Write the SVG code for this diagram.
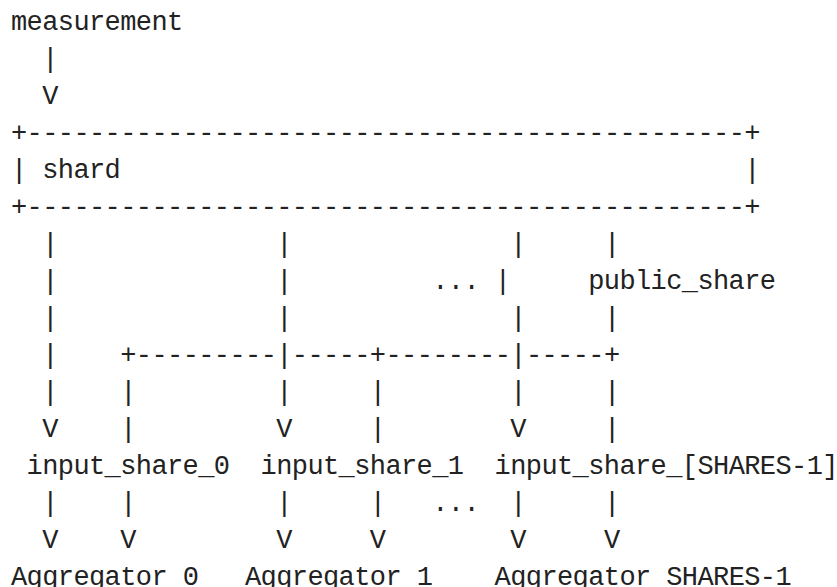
<svg xmlns="http://www.w3.org/2000/svg" width="837" height="587" viewBox="0 0 837 587">
  <style>
    text { font-family: "Liberation Mono", "DejaVu Sans Mono", monospace; font-size: 27px; letter-spacing: -0.6px; fill: #222; white-space: pre; }
  </style>
  <rect width="837" height="587" fill="#fff"/>

  <!-- measurement input -->
  <g id="measurement">
    <text x="11" y="29.5" xml:space="preserve">measurement</text>
  </g>

  <!-- shard box -->
  <g id="shard">
    <text x="11" y="140.5" xml:space="preserve">+----------------------------------------------+</text>
    <text x="11" y="177.5" xml:space="preserve">| shard                                        |</text>
    <text x="11" y="214.5" xml:space="preserve">+----------------------------------------------+</text>
  </g>

  <!-- public share label -->
  <g id="public-share">
    <text x="588.2" y="288.5" xml:space="preserve">public_share</text>
  </g>

  <!-- input shares -->
  <g id="input-shares">
    <text x="26.6" y="473.5" xml:space="preserve">input_share_0</text>
    <text x="260.6" y="473.5" xml:space="preserve">input_share_1</text>
    <text x="494.6" y="473.5" xml:space="preserve">input_share_[SHARES-1]</text>
  </g>

  <!-- aggregators -->
  <g id="aggregator-0">
    <text x="11" y="584.5" xml:space="preserve">Aggregator 0</text>
  </g>
  <g id="aggregator-1">
    <text x="245" y="584.5" xml:space="preserve">Aggregator 1</text>
  </g>
  <g id="aggregator-n">
    <text x="494.6" y="584.5" xml:space="preserve">Aggregator SHARES-1</text>
  </g>

  <!-- connectors -->
  <g id="connectors">
    <text x="11" y="66.5" xml:space="preserve">  |</text>
    <text x="11" y="103.5" xml:space="preserve">  V</text>
    <text x="11" y="251.5" xml:space="preserve">  |              |              |     |</text>
    <text x="11" y="288.5" xml:space="preserve">  |              |         ... |</text>
    <text x="11" y="325.5" xml:space="preserve">  |              |              |     |</text>
    <text x="11" y="362.5" xml:space="preserve">  |    +---------|-----+--------|-----+</text>
    <text x="11" y="399.5" xml:space="preserve">  |    |         |     |        |     |</text>
    <text x="11" y="436.5" xml:space="preserve">  V    |         V     |        V     |</text>
    <text x="11" y="510.5" xml:space="preserve">  |    |         |     |   ...  |     |</text>
    <text x="11" y="547.5" xml:space="preserve">  V    V         V     V        V     V</text>
  </g>
</svg>
